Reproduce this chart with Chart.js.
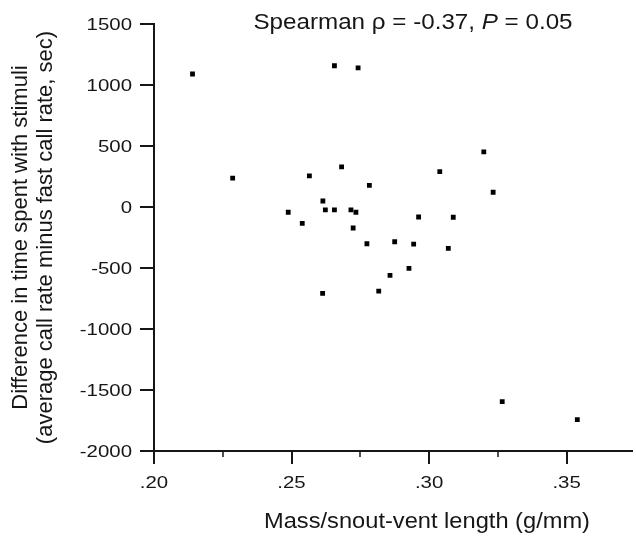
<!DOCTYPE html>
<html lang="en">
<head>
  <meta charset="UTF-8">
  <title>Mass/snout-vent length vs. time difference</title>
  <style>
    html, body { margin: 0; padding: 0; background: #fff; overflow: hidden; }
    #wrap { width: 636px; height: 538px; }
  </style>
</head>
<body>

  <div id="wrap">
    <canvas id="scatterChart" width="636" height="538"></canvas>
  </div>

  <script src="https://cdn.jsdelivr.net/npm/chart.js"></script>

  <script>
    // Data
    const massRatio = [
      0.2140, 0.2286, 0.2488, 0.2539, 0.2565, 0.2613, 0.2614, 0.2623, 0.2656, 0.2656,
      0.2682, 0.2716, 0.2724, 0.2734, 0.2742, 0.2774, 0.2783, 0.2817, 0.2858, 0.2875,
      0.2927, 0.2944, 0.2962, 0.3039, 0.3070, 0.3088, 0.3199, 0.3233, 0.3266, 0.3539
    ];
    const timeDiff = [
      1090, 236, -43, -134, 255, -708, 49, -24, 1158, -24,
      329, -24, -172, -43, 1141, -301, 178, -689, -560, -285,
      -503, -304, -82, 290, -339, -84, 452, 121, -1595, -1743
    ];
    const xTickLabels = ['.20', '.25', '.30', '.35'];
    const yTickValues = [1500, 1000, 500, 0, -500, -1000, -1500, -2000];

    const xTitle = 'Mass/snout-vent length (g/mm)';
    const yTitle = [
      'Difference in time spent with stimuli',
      '(average call rate minus fast call rate, sec)'
    ];

    const points = massRatio.map((x, i) => ({ x: x, y: timeDiff[i] }));

    const FONT = '"Liberation Sans", Arial, Helvetica, sans-serif';
    const INK = '#161616';

    // the scanned figure is a bit wider than tall, so text is stretched sideways
    function stretchedText(ctx, segments, x, y, align, sx) {
      ctx.save();
      ctx.translate(x, y);
      ctx.scale(sx, 1);
      let total = 0;
      segments.forEach(s => { ctx.font = s.font; total += ctx.measureText(s.text).width; });
      let cx = align === 'center' ? -total / 2 : (align === 'right' ? -total : 0);
      ctx.textAlign = 'left';
      segments.forEach(s => {
        ctx.font = s.font;
        ctx.fillText(s.text, cx, 0);
        cx += ctx.measureText(s.text).width;
      });
      ctx.restore();
    }

    const axisDecor = {
      id: 'axisDecor',
      afterDraw(chart) {
        const ctx = chart.ctx;
        const xs = chart.scales.x;
        const ys = chart.scales.y;
        const area = chart.chartArea;
        ctx.save();
        ctx.strokeStyle = INK;
        ctx.fillStyle = INK;

        // y ticks + labels
        ctx.lineWidth = 2;
        ctx.textBaseline = 'middle';
        yTickValues.forEach(v => {
          const py = Math.round(ys.getPixelForValue(v));
          ctx.beginPath();
          ctx.moveTo(area.left - 14, py);
          ctx.lineTo(area.left, py);
          ctx.stroke();
          stretchedText(ctx, [{ text: String(v), font: '17px ' + FONT }], area.left - 22, py + 1, 'right', 1.2);
        });

        // x ticks (major every .05, minor between) + labels
        ctx.textBaseline = 'alphabetic';
        xs.ticks.forEach(t => {
          const px = Math.round(xs.getPixelForValue(t.value));
          const major = Math.abs(t.value * 20 - Math.round(t.value * 20)) < 1e-6;
          ctx.lineWidth = major ? 2 : 1.5;
          ctx.beginPath();
          ctx.moveTo(px, area.bottom);
          ctx.lineTo(px, area.bottom + (major ? 13 : 6));
          ctx.stroke();
        });
        xTickLabels.forEach(lbl => {
          const px = xs.getPixelForValue(parseFloat('0' + lbl));
          stretchedText(ctx, [{ text: lbl, font: '17px ' + FONT }], px, 488, 'center', 1.2);
        });

        // x title
        stretchedText(ctx, [{ text: xTitle, font: '21.5px ' + FONT }], 427, 528, 'center', 1.1);

        // statistic in the top right
        stretchedText(ctx, [
          { text: 'Spearman \u03c1 = -0.37, ', font: '22px ' + FONT },
          { text: 'P', font: 'italic 22px ' + FONT },
          { text: ' = 0.05', font: '22px ' + FONT }
        ], 413, 29, 'center', 1.1);

        ctx.restore();
      }
    };

    const config = {
      type: 'scatter',
      data: {
        datasets: [{
          data: points,
          pointStyle: 'rect',
          pointRadius: 3.4,
          pointHoverRadius: 3.4,
          backgroundColor: '#000',
          borderWidth: 0
        }]
      },
      options: {
        responsive: false,
        animation: false,
        events: [],
        layout: {
          padding: { top: 24, right: -4, bottom: 0, left: 0 }
        },
        plugins: {
          legend: { display: false },
          tooltip: { enabled: false }
        },
        scales: {
          x: {
            type: 'linear',
            min: 0.2,
            max: 0.374,
            afterFit(scale) { scale.height = 87; },
            ticks: { display: false, stepSize: 0.025, includeBounds: false },
            grid: { display: false },
            border: { display: true, color: INK, width: 2 }
          },
          y: {
            type: 'linear',
            min: -2000,
            max: 1500,
            afterFit(scale) { scale.width = 154; },
            ticks: { display: false, stepSize: 500 },
            grid: { display: false },
            border: { display: true, color: INK, width: 2 },
            title: {
              display: true,
              text: yTitle,
              color: INK,
              font: { family: FONT, size: 22, lineHeight: 1.14 },
              padding: { top: 8, bottom: 0 }
            }
          }
        }
      },
      plugins: [axisDecor]
    };

    new Chart(document.getElementById('scatterChart'), config);
  </script>
</body>
</html>
